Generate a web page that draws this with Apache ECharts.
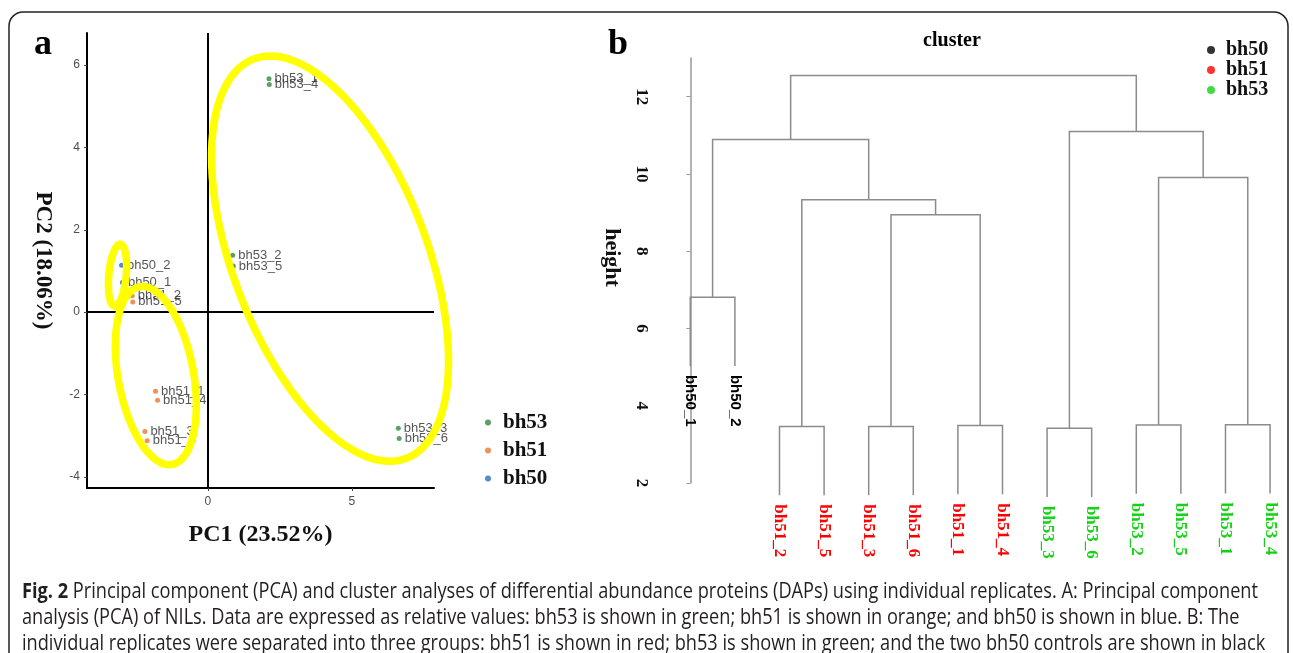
<!DOCTYPE html>
<html>
<head>
<meta charset="utf-8">
<script src="https://cdn.jsdelivr.net/npm/echarts@6/dist/echarts.min.js"></script>
<style>
html, body { margin: 0; padding: 0; background: #fff; }
#main { width: 1293px; height: 653px; }
</style>
</head>
<body>
<div id="main"></div>
<script>
// ---- panel a : PCA scores ----
var bh53Names = ['bh53_1', 'bh53_4', 'bh53_2', 'bh53_5', 'bh53_3', 'bh53_6'];
var bh53PC1 = [2.12, 2.13, 0.86, 0.88, 6.61, 6.64];
var bh53PC2 = [5.67, 5.53, 1.38, 1.12, -2.82, -3.07];

var bh51Names = ['bh51_2', 'bh51_5', 'bh51_1', 'bh51_4', 'bh51_3', 'bh51_6'];
var bh51PC1 = [-2.63, -2.61, -1.82, -1.75, -2.19, -2.11];
var bh51PC2 = [0.40, 0.25, -1.92, -2.14, -2.90, -3.12];

var bh50Names = ['bh50_2', 'bh50_1'];
var bh50PC1 = [-3.00, -2.97];
var bh50PC2 = [1.14, 0.72];

// yellow rings: centre x, centre y, half axis u (x,y), half axis v (x,y) in PC units
var ringBh53 = [4.24, 1.30, 2.65, -4.85, -3.15, -0.84];
var ringBh50 = [-3.14, 0.90, 0.10, 0.75, 0.30, -0.02];
var ringBh51 = [-1.81, -1.54, 0.56, -2.16, -1.29, -0.16];

var pcaTicksX = [0, 5];
var pcaTicksY = [-4, -2, 0, 2, 4, 6];

// ---- panel b : hierarchical clustering ----
var leafNames = ['bh50_1', 'bh50_2', 'bh51_2', 'bh51_5', 'bh51_3', 'bh51_6', 'bh51_1',
                 'bh51_4', 'bh53_3', 'bh53_6', 'bh53_2', 'bh53_5', 'bh53_1', 'bh53_4'];
var leafGroup = ['bh50', 'bh50', 'bh51', 'bh51', 'bh51', 'bh51', 'bh51',
                 'bh51', 'bh53', 'bh53', 'bh53', 'bh53', 'bh53', 'bh53'];
// merge i joins mergeLeft[i] and mergeRight[i]; a number means an earlier merge
var mergeLeft = ['bh50_1', 'bh51_2', 'bh51_3', 'bh51_1', 'bh53_3', 'bh53_2', 'bh53_1', 2, 1, 0, 5, 4, 9];
var mergeRight = ['bh50_2', 'bh51_5', 'bh51_6', 'bh51_4', 'bh53_6', 'bh53_5', 'bh53_4', 3, 7, 8, 6, 10, 11];
var mergeHeight = [6.81, 3.46, 3.46, 3.49, 3.42, 3.50, 3.51, 8.94, 9.33, 10.89, 9.91, 11.10, 12.55];
var hang = 1.78;
var heightTicks = [2, 4, 6, 8, 10, 12];

var captionBold = 'Fig. 2';
var captionLines = [
  ' Principal component (PCA) and cluster analyses of differential abundance proteins (DAPs) using individual replicates. A: Principal component',
  'analysis (PCA) of NILs. Data are expressed as relative values: bh53 is shown in green; bh51 is shown in orange; and bh50 is shown in blue. B: The',
  'individual replicates were separated into three groups: bh51 is shown in red; bh53 is shown in green; and the two bh50 controls are shown in black'
];

var pcaColor = { bh53: '#2e8b3c', bh51: '#e8782c', bh50: '#2a6db3' };
var treeColor = { bh50: '#000000', bh51: '#ff0000', bh53: '#14d214' };

function points(xs, ys, names) {
  return xs.map(function (x, i) { return [x, ys[i], names[i]]; });
}

// dendrogram layout from merge list
var nodeX = [];
var leafBottom = leafNames.map(function () { return 0; });
var branchData = [];
function refX(r) { return typeof r === 'string' ? leafNames.indexOf(r) : nodeX[r]; }
function refTop(r, h) {
  if (typeof r === 'string') {
    leafBottom[leafNames.indexOf(r)] = h - hang;
    return h - hang;
  }
  return mergeHeight[r];
}
for (var i = 0; i < mergeHeight.length; i++) {
  var h = mergeHeight[i];
  var xl = refX(mergeLeft[i]), xr = refX(mergeRight[i]);
  nodeX[i] = (xl + xr) / 2;
  branchData.push([xl, refTop(mergeLeft[i], h), xr, refTop(mergeRight[i], h), h]);
}
var leafData = leafNames.map(function (n, i) { return [i, leafBottom[i]]; });

// caption width: condensed look by horizontal scaling
var capFont = '"Open Sans"';
var capSize = 21;
var ctx = document.createElement('canvas').getContext('2d');
ctx.font = 'bold ' + capSize + 'px ' + capFont;
var wBold = ctx.measureText(captionBold).width;
ctx.font = capSize + 'px ' + capFont;
var wLine1 = ctx.measureText(captionLines[0]).width;
var capScale = 1236 / (wBold + wLine1);

var serif = 'Liberation Serif';
var sans = 'Liberation Sans';

var chart = echarts.init(document.getElementById('main'));

var ringSeries = {
  type: 'custom',
  xAxisIndex: 0,
  yAxisIndex: 0,
  clip: false,
  silent: true,
  z: 5,
  dimensions: ['cx', 'cy', 'ux', 'uy', 'vx', 'vy'],
  encode: { x: 0, y: 1 },
  data: [ringBh53, ringBh50, ringBh51],
  renderItem: function (params, api) {
    var pts = [];
    for (var k = 0; k <= 96; k++) {
      var t = k / 96 * Math.PI * 2;
      var c = Math.cos(t), s = Math.sin(t);
      pts.push(api.coord([
        api.value(0) + c * api.value(2) + s * api.value(4),
        api.value(1) + c * api.value(3) + s * api.value(5)
      ]));
    }
    return {
      type: 'polygon',
      shape: { points: pts },
      style: { fill: 'none', stroke: '#ffff00', lineWidth: 7.5 }
    };
  }
};

function pcaSeries(name, data, extra) {
  var s = {
    name: name,
    type: 'scatter',
    xAxisIndex: 0,
    yAxisIndex: 0,
    symbolSize: 5,
    itemStyle: { color: pcaColor[name] },
    data: data,
    z: 3,
    label: {
      show: true,
      position: 'right',
      distance: 3,
      formatter: function (p) { return p.value[2]; },
      color: '#2b2b2b',
      fontFamily: sans,
      fontSize: 13
    }
  };
  for (var key in extra) s[key] = extra[key];
  return s;
}

var option = {
  backgroundColor: '#fff',
  animation: false,
  title: [
    { text: 'a', left: 29, top: 22, textStyle: { fontFamily: serif, fontWeight: 'bold', fontSize: 36, color: '#000' } },
    { text: 'b', left: 603, top: 22, textStyle: { fontFamily: serif, fontWeight: 'bold', fontSize: 36, color: '#000' } },
    { text: 'cluster', left: 947, textAlign: 'center', top: 26, textStyle: { fontFamily: serif, fontWeight: 'bold', fontSize: 20, color: '#000' } }
  ],
  legend: [
    {
      data: ['bh53', 'bh51', 'bh50'],
      orient: 'vertical', left: 480, top: 407,
      icon: 'circle', itemWidth: 20, itemHeight: 6, itemGap: 7,
      selectedMode: false,
      textStyle: { fontFamily: serif, fontWeight: 'bold', fontSize: 21, color: '#111' }
    },
    {
      data: [
        { name: 'bh50', itemStyle: { color: treeColor.bh50 } },
        { name: 'bh51', itemStyle: { color: treeColor.bh51 } },
        { name: 'bh53', itemStyle: { color: treeColor.bh53 } }
      ],
      orient: 'vertical', left: 1202, top: 35,
      icon: 'circle', itemWidth: 20, itemHeight: 8, itemGap: 0,
      selectedMode: false,
      textStyle: { fontFamily: serif, fontWeight: 'bold', fontSize: 20, lineHeight: 19, color: '#111' }
    }
  ],
  grid: [
    { left: 87, top: 33, width: 347, height: 455 },
    { left: 668, top: 58, width: 611, height: 425 }
  ],
  xAxis: [
    {
      gridIndex: 0, type: 'value', min: -4.2, max: 7.85,
      name: 'PC1 (23.52%)', nameLocation: 'middle', nameGap: 35,
      nameTextStyle: { fontFamily: serif, fontWeight: 'bold', fontSize: 24, color: '#111' },
      axisLine: { onZero: false, lineStyle: { color: '#000', width: 2 } },
      axisTick: { customValues: pcaTicksX, length: 3, lineStyle: { color: '#444' } },
      axisLabel: { customValues: pcaTicksX, color: '#4d4d4d', fontFamily: sans, fontSize: 12, margin: 8 },
      splitLine: { show: false }
    },
    {
      gridIndex: 1, type: 'value', min: -0.5, max: 13.2, show: false
    }
  ],
  yAxis: [
    {
      gridIndex: 0, type: 'value', min: -4.27, max: 6.78,
      name: 'PC2 (18.06%)', nameLocation: 'middle', nameGap: 33, nameRotate: -90,
      nameTextStyle: { fontFamily: serif, fontWeight: 'bold', fontSize: 23, color: '#111' },
      axisLine: { show: true, onZero: false, lineStyle: { color: '#000', width: 2 } },
      axisTick: { show: true, customValues: pcaTicksY, length: 3, lineStyle: { color: '#444' } },
      axisLabel: { customValues: pcaTicksY, color: '#4d4d4d', fontFamily: sans, fontSize: 12, margin: 7 },
      splitLine: { show: false }
    },
    {
      gridIndex: 1, type: 'value', min: 2, max: 13,
      name: 'height', nameLocation: 'middle', nameGap: 45, nameRotate: -90,
      nameTextStyle: { fontFamily: serif, fontWeight: 'bold', fontSize: 22, color: '#111', padding: [0, 26, 0, 0] },
      axisLine: { show: true, lineStyle: { color: '#999', width: 1.5 } },
      axisTick: { show: true, customValues: heightTicks, length: 4, lineStyle: { color: '#999' } },
      axisLabel: { customValues: heightTicks, rotate: -90, margin: 18, color: '#111', fontFamily: serif, fontWeight: 'bold', fontSize: 17 },
      splitLine: { show: false }
    }
  ],
  graphic: [
    {
      type: 'rect', silent: true,
      shape: { x: 9, y: 12, width: 1279, height: 720, r: 14 },
      style: { fill: 'none', stroke: '#222', lineWidth: 1.5 }
    },
    {
      type: 'text', x: 22, y: 592, scaleX: capScale, originX: 0,
      style: {
        text: '{b|' + captionBold + '}' + captionLines[0],
        rich: { b: { fontFamily: capFont, fontWeight: 'bold', fontSize: capSize, fill: '#231f20' } },
        fontFamily: capFont, fontSize: capSize, fill: '#231f20', verticalAlign: 'middle'
      }
    },
    {
      type: 'text', x: 22, y: 618, scaleX: capScale, originX: 0,
      style: { text: captionLines[1], fontFamily: capFont, fontSize: capSize, fill: '#231f20', verticalAlign: 'middle' }
    },
    {
      type: 'text', x: 22, y: 644, scaleX: capScale, originX: 0,
      style: { text: captionLines[2], fontFamily: capFont, fontSize: capSize, fill: '#231f20', verticalAlign: 'middle' }
    }
  ],
  series: [
    pcaSeries('bh53', points(bh53PC1, bh53PC2, bh53Names), {
      markLine: {
        silent: true, symbol: ['none', 'none'], label: { show: false },
        lineStyle: { color: '#000', width: 2, type: 'solid' },
        data: [{ xAxis: 0 }, { yAxis: 0 }]
      }
    }),
    pcaSeries('bh51', points(bh51PC1, bh51PC2, bh51Names), {}),
    pcaSeries('bh50', points(bh50PC1, bh50PC2, bh50Names), {}),
    ringSeries,
    {
      type: 'custom',
      xAxisIndex: 1, yAxisIndex: 1,
      silent: true, clip: false,
      dimensions: ['xl', 'yl', 'xr', 'yr', 'h'],
      encode: { x: [0, 2], y: [1, 3, 4] },
      data: branchData,
      renderItem: function (params, api) {
        var h = api.value(4);
        return {
          type: 'polyline',
          shape: {
            points: [
              api.coord([api.value(0), api.value(1)]),
              api.coord([api.value(0), h]),
              api.coord([api.value(2), h]),
              api.coord([api.value(2), api.value(3)])
            ]
          },
          style: { fill: 'none', stroke: '#8c8c8c', lineWidth: 1.5 }
        };
      }
    },
    {
      type: 'custom',
      xAxisIndex: 1, yAxisIndex: 1,
      silent: true, clip: false,
      encode: { x: 0, y: 1 },
      data: leafData,
      renderItem: function (params, api) {
        var p = api.coord([api.value(0), api.value(1)]);
        var g = leafGroup[params.dataIndex];
        var isCtrl = g === 'bh50';
        return {
          type: 'text',
          x: p[0], y: p[1] + 9,
          rotation: -Math.PI / 2,
          style: {
            text: leafNames[params.dataIndex],
            x: 0, y: 0,
            align: 'left', verticalAlign: 'middle',
            fill: treeColor[g],
            fontFamily: isCtrl ? sans : serif,
            fontWeight: 'bold',
            fontSize: isCtrl ? 15 : 17
          }
        };
      }
    }
  ]
};

chart.setOption(option);
</script>
</body>
</html>
